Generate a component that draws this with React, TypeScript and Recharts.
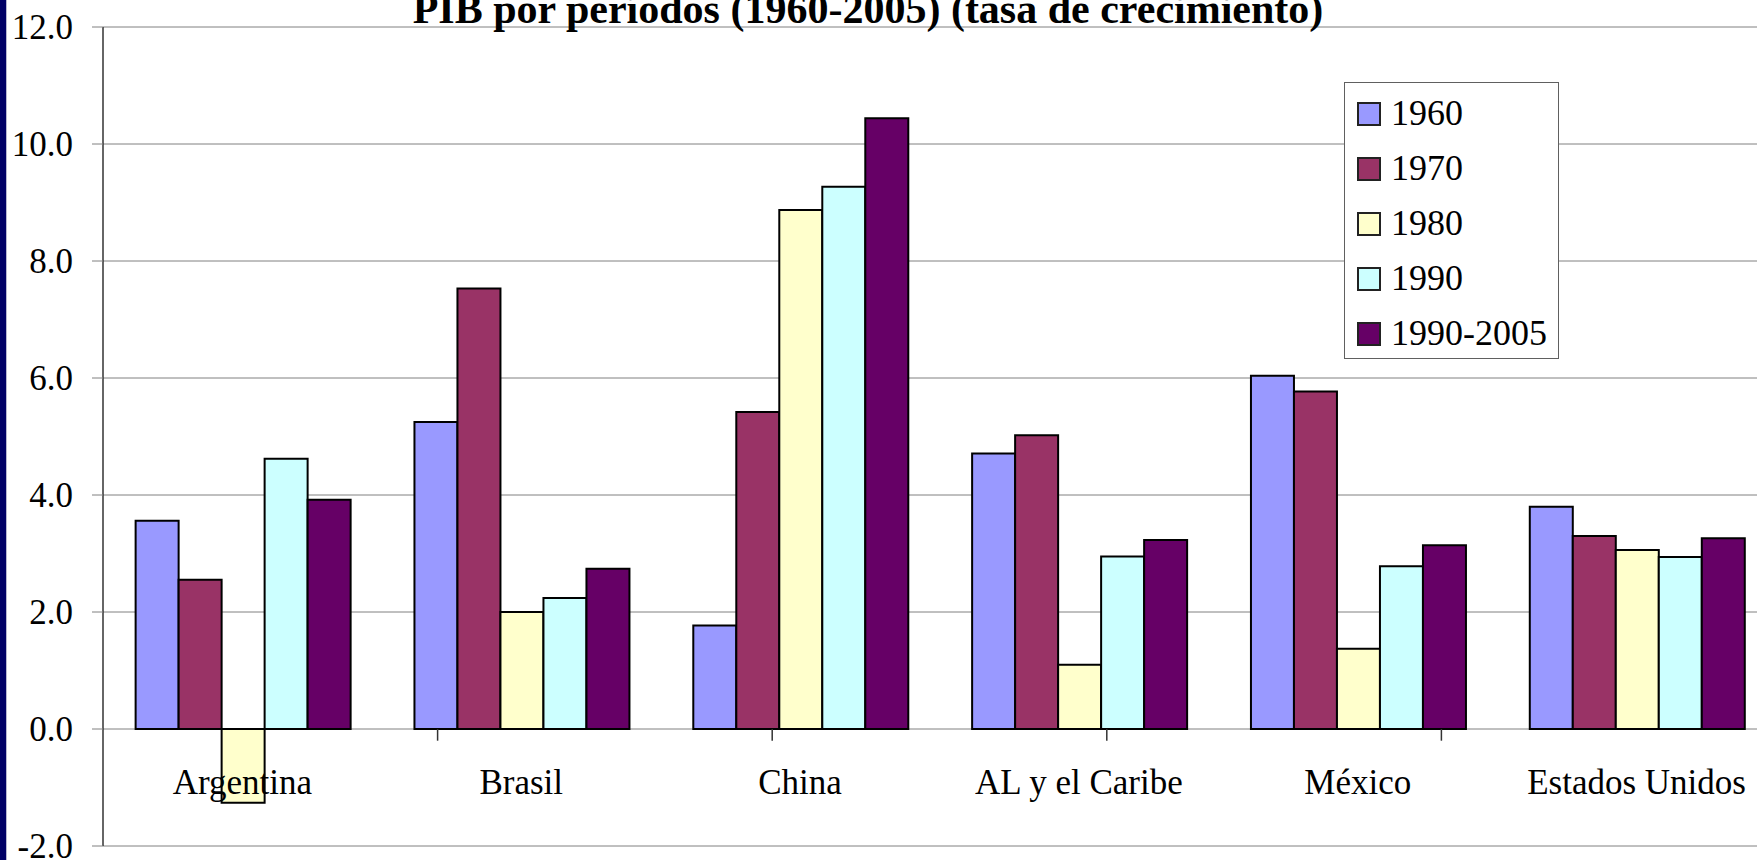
import { BarChart, Bar, XAxis, YAxis, CartesianGrid, Legend, ReferenceLine } from 'recharts';

const categories = ['Argentina', 'Brasil', 'China', 'AL y el Caribe', 'México', 'Estados Unidos'];
const periods = ['1960', '1970', '1980', '1990', '1990-2005'];
const colors = ['#9999FF', '#993366', '#FFFFCC', '#CCFFFF', '#660066'];

const v1960 = [3.56, 5.25, 1.77, 4.71, 6.04, 3.8];
const v1970 = [2.55, 7.53, 5.42, 5.02, 5.77, 3.3];
const v1980 = [-1.26, 2.0, 8.87, 1.1, 1.37, 3.06];
const v1990 = [4.62, 2.24, 9.27, 2.95, 2.78, 2.94];
const v1990_2005 = [3.92, 2.74, 10.44, 3.23, 3.14, 3.26];

const yTicks = [-2, 0, 2, 4, 6, 8, 10, 12];
const title = 'PIB por períodos (1960-2005) (tasa de crecimiento)';

const series = [v1960, v1970, v1980, v1990, v1990_2005];
const data = categories.map((name, i) => {
  const row: Record<string, string | number> = { name };
  periods.forEach((p, j) => (row[p] = series[j][i]));
  return row;
});
// boundaries between categories, for the small ticks under the zero line
const boundaries = categories.slice(1).map((_, i) => i + 1);

const font = "'Liberation Serif', 'Times New Roman', serif";

function CategoryTick({ x, payload }: any) {
  return (
    <text x={x} y={794} textAnchor="middle" fontFamily={font} fontSize={35} fill="#000">
      {payload.value}
    </text>
  );
}

function LegendBox() {
  return (
    <div
      style={{
        boxSizing: 'border-box',
        width: 215,
        height: 277,
        border: '1px solid #606060',
        background: '#fff',
        paddingTop: 3,
        fontFamily: font,
        color: '#000',
      }}
    >
      {periods.map((p, i) => (
        <div key={p} style={{ display: 'flex', alignItems: 'center', height: 55 }}>
          <span
            style={{
              boxSizing: 'border-box',
              width: 24,
              height: 24,
              border: '2px solid #222',
              background: colors[i],
              marginLeft: 12,
              marginRight: 10,
            }}
          />
          <span style={{ fontSize: 36, lineHeight: '55px' }}>{p}</span>
        </div>
      ))}
    </div>
  );
}

export default function App() {
  return (
    <div style={{ position: 'fixed', left: 0, top: 0, width: 1757, height: 860, overflow: 'hidden', background: '#fff' }}>
      <BarChart
        width={1800}
        height={860}
        data={data}
        margin={{ top: 27, right: 24, left: 0, bottom: 0 }}
        barCategoryGap="11.7%"
        barGap={0}
      >
        <CartesianGrid vertical={false} stroke="#808080" />
        <YAxis
          width={103}
          domain={[-2, 12]}
          ticks={yTicks}
          interval={0}
          tickFormatter={(v: number) => v.toFixed(1)}
          tick={{ fontSize: 35, fill: '#000', fontFamily: font }}
          tickSize={11}
          tickMargin={19}
          tickLine={{ stroke: '#808080' }}
          axisLine={{ stroke: '#333', strokeWidth: 1.5 }}
        />
        <XAxis xAxisId="b" type="number" domain={[0, categories.length]} hide />
        {periods.map((p, i) => (
          <Bar key={p} dataKey={p} fill={colors[i]} stroke="#000" strokeWidth={2} isAnimationActive={false} />
        ))}
        {boundaries.map((b) => (
          <ReferenceLine
            key={b}
            xAxisId="b"
            segment={[{ x: b, y: 0 }, { x: b, y: -0.2 }]}
            stroke="#333"
            strokeWidth={1.5}
          />
        ))}
        <XAxis dataKey="name" height={14} interval={0} tickLine={false} axisLine={false} tick={<CategoryTick />} />
        <Legend
          layout="vertical"
          align="center"
          verticalAlign="middle"
          content={() => <LegendBox />}
          wrapperStyle={{ left: 1344, top: 82, width: 215, height: 277 }}
        />
      </BarChart>
      <svg width={1757} height={60} style={{ position: 'absolute', left: 0, top: 0 }}>
        <text x={868} y={23} textAnchor="middle" fontFamily={font} fontWeight="bold" fontSize={42} fill="#000">
          {title}
        </text>
      </svg>
      <div style={{ position: 'absolute', left: 0, top: 0, width: 6, height: 860, background: '#000066' }} />
      <div style={{ position: 'absolute', left: 6, top: 0, width: 1, height: 860, background: '#b8b8d0' }} />
    </div>
  );
}
